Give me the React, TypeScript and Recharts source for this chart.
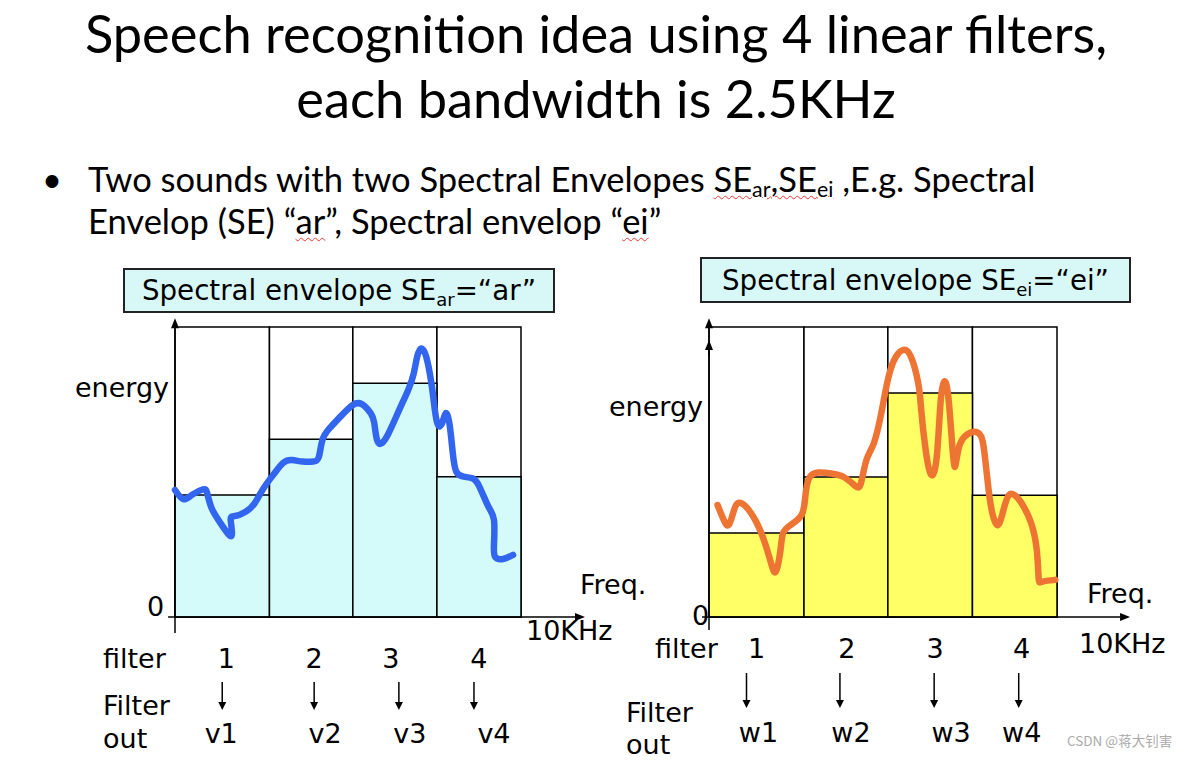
import React from 'react';
import { ComposedChart, Line, XAxis, YAxis, ReferenceArea, ReferenceLine } from 'recharts';

// filter band edges (kHz), 4 filters over 0..10KHz
const filterEdges = [0, 2.73, 5.14, 7.57, 10];
const filterNames = ['1', '2', '3', '4'];
const arOutNames = ['v1', 'v2', 'v3', 'v4'];
const eiOutNames = ['w1', 'w2', 'w3', 'w4'];

// filter output energy (top of frame = 1)
const arBandEnergy = [0.421, 0.613, 0.806, 0.484];
const eiBandEnergy = [0.29, 0.483, 0.772, 0.42];

// spectral envelope "ar"
const arFreq = [0.0, 0.24, 0.49, 0.81, 0.93, 1.06, 1.32, 1.63, 1.61, 1.73, 2.04, 2.3, 2.56, 2.87, 3.13, 3.38, 3.69, 4.0, 4.16, 4.26, 4.47, 4.83, 5.14, 5.4, 5.66, 5.76, 5.84, 5.97, 6.17, 6.48, 6.74, 6.9, 7.0, 7.12, 7.26, 7.41, 7.51, 7.6, 7.72, 7.82, 7.93, 8.03, 8.13, 8.34, 8.6, 8.8, 9.06, 9.22, 9.22, 9.25, 9.48, 9.77];
const arEnergy = [0.438, 0.406, 0.421, 0.44, 0.427, 0.375, 0.323, 0.279, 0.334, 0.348, 0.363, 0.392, 0.444, 0.495, 0.532, 0.541, 0.536, 0.536, 0.553, 0.61, 0.651, 0.697, 0.731, 0.734, 0.702, 0.668, 0.61, 0.599, 0.633, 0.714, 0.783, 0.84, 0.898, 0.926, 0.898, 0.806, 0.714, 0.662, 0.668, 0.702, 0.668, 0.564, 0.501, 0.484, 0.478, 0.449, 0.38, 0.334, 0.254, 0.208, 0.2, 0.214];

// spectral envelope "ei"
const eiFreq = [0.245, 0.426, 0.564, 0.692, 0.82, 1.064, 1.33, 1.543, 1.756, 1.916, 2.054, 2.129, 2.341, 2.661, 2.767, 2.874, 3.14, 3.512, 3.885, 4.204, 4.364, 4.523, 4.736, 4.949, 5.162, 5.375, 5.587, 5.8, 6.013, 6.098, 6.226, 6.386, 6.545, 6.652, 6.758, 6.865, 6.971, 7.056, 7.163, 7.344, 7.61, 7.823, 7.929, 8.035, 8.142, 8.301, 8.461, 8.621, 8.834, 9.046, 9.259, 9.419, 9.472, 9.579, 9.951];
const eiEnergy = [0.386, 0.334, 0.317, 0.358, 0.392, 0.38, 0.334, 0.277, 0.197, 0.156, 0.231, 0.289, 0.317, 0.352, 0.415, 0.478, 0.498, 0.495, 0.482, 0.452, 0.461, 0.541, 0.599, 0.702, 0.829, 0.898, 0.921, 0.898, 0.806, 0.714, 0.576, 0.49, 0.553, 0.737, 0.811, 0.771, 0.622, 0.518, 0.576, 0.622, 0.639, 0.622, 0.553, 0.438, 0.358, 0.317, 0.369, 0.421, 0.415, 0.38, 0.323, 0.231, 0.133, 0.122, 0.128];

const centers = filterEdges.slice(0, -1).map((e, i) => (e + filterEdges[i + 1]) / 2);

const TITLE_FONT = "Lato, 'Open Sans', sans-serif";
const LABEL_FONT = "'DejaVu Sans', Verdana, sans-serif";

type Panel = {
  left: number;
  top: number;
  width: number;
  height: number;
  margin: { top: number; right: number; bottom: number; left: number };
  fill: string;
  stroke: string;
  xEnd: number;
  yBottom: number;
  numDy: number;
  arrowTop: number;
  arrowBottom: number;
  outDy: number;
  numDx: number[];
  arrowDx: number[];
  outDx: number[];
  extraArrow?: number;
};

const arPanel: Panel = {
  left: 60, top: 300, width: 540, height: 461,
  margin: { top: 27, right: 79, bottom: 0, left: 115 },
  fill: '#D5FAFA', stroke: '#3366EE',
  xEnd: 11.85, yBottom: -0.055,
  numDy: 51, arrowTop: 65, arrowBottom: 93, outDy: 126,
  numDx: [4, 3, -4, 0], arrowDx: [0, 3, 4, -5], outDx: [-1, 14, 15, 15],
};

const eiPanel: Panel = {
  left: 600, top: 300, width: 584, height: 461,
  margin: { top: 27, right: 127, bottom: 0, left: 109 },
  fill: '#FFFF66', stroke: '#EE7433',
  xEnd: 12.1, yBottom: -0.045,
  numDy: 41, arrowTop: 56, arrowBottom: 91, outDy: 125,
  numDx: [0, 1, 5, 7], arrowDx: [-10, -6, 4, 4], outDx: [2, 5, 21, 7],
  extraArrow: 0.955,
};

// axis line with an arrow head at its end point
const arrowShape = (props: any) => {
  const { x1, y1, x2, y2 } = props;
  const dx = x2 - x1;
  const dy = y2 - y1;
  const len = Math.hypot(dx, dy) || 1;
  const ux = dx / len;
  const uy = dy / len;
  const hl = 10;
  const hw = 4;
  const bx = x2 - ux * hl;
  const by = y2 - uy * hl;
  const pts = `${x2},${y2} ${bx - uy * hw},${by + ux * hw} ${bx + uy * hw},${by - ux * hw}`;
  return (
    <g>
      <line x1={x1} y1={y1} x2={bx} y2={by} stroke="#000" strokeWidth={1.5} />
      <polygon points={pts} fill="#000" />
    </g>
  );
};

function makeTick(p: Panel, outs: string[]) {
  return (props: any) => {
    const { x, y, payload } = props;
    const i = centers.indexOf(payload.value);
    if (i < 0) return <g />;
    const ax = x + p.arrowDx[i];
    const tip = y + p.arrowBottom;
    return (
      <g>
        <text x={x + p.numDx[i]} y={y + p.numDy} textAnchor="middle" fontSize={27} fontFamily={LABEL_FONT} fill="#000">
          {filterNames[i]}
        </text>
        <line x1={ax} y1={y + p.arrowTop} x2={ax} y2={tip - 7} stroke="#000" strokeWidth={1.5} />
        <polygon points={`${ax - 4},${tip - 8} ${ax + 4},${tip - 8} ${ax},${tip}`} fill="#000" />
        <text x={x + p.outDx[i]} y={y + p.outDy} textAnchor="middle" fontSize={27} fontFamily={LABEL_FONT} fill="#000">
          {outs[i]}
        </text>
      </g>
    );
  };
}

function FilterPanel({ p, freq, energy, bands, outs }: { p: Panel; freq: number[]; energy: number[]; bands: number[]; outs: string[] }) {
  const data = freq.map((f, i) => ({ f, e: energy[i] }));
  return (
    <div style={{ position: 'absolute', left: p.left, top: p.top }}>
      <ComposedChart width={p.width} height={p.height} data={data} margin={p.margin}>
        <XAxis
          type="number"
          dataKey="f"
          domain={[0, 10]}
          ticks={centers}
          interval={0}
          axisLine={false}
          tickLine={false}
          tickSize={0}
          tickMargin={0}
          height={144}
          tick={makeTick(p, outs)}
        />
        <YAxis type="number" domain={[0, 1]} hide />
        {centers.map((_, i) => (
          <ReferenceArea
            key={`frame${i}`}
            x1={filterEdges[i]}
            x2={filterEdges[i + 1]}
            y1={0}
            y2={1}
            fill="#fff"
            fillOpacity={1}
            stroke="#000"
            strokeWidth={1.5}
          />
        ))}
        {bands.map((v, i) => (
          <ReferenceArea
            key={`band${i}`}
            x1={filterEdges[i]}
            x2={filterEdges[i + 1]}
            y1={0}
            y2={v}
            fill={p.fill}
            fillOpacity={1}
            stroke="#000"
            strokeWidth={1.5}
          />
        ))}
        <ReferenceLine segment={[{ x: 0, y: p.yBottom }, { x: 0, y: 1.03 }]} ifOverflow="visible" shape={arrowShape} />
        {p.extraArrow ? (
          <ReferenceLine segment={[{ x: 0, y: 0.9 }, { x: 0, y: p.extraArrow }]} ifOverflow="visible" shape={arrowShape} />
        ) : null}
        <ReferenceLine segment={[{ x: -0.2, y: 0 }, { x: p.xEnd, y: 0 }]} ifOverflow="visible" shape={arrowShape} />
        <Line
          type="natural"
          dataKey="e"
          stroke={p.stroke}
          strokeWidth={6.5}
          strokeLinecap="round"
          strokeLinejoin="round"
          dot={false}
          activeDot={false}
          isAnimationActive={false}
        />
      </ComposedChart>
    </div>
  );
}

const labels: { t: string; x: number; y: number }[] = [
  { t: 'energy', x: 75, y: 397 },
  { t: '0', x: 147, y: 616 },
  { t: 'Freq.', x: 580, y: 594 },
  { t: '10KHz', x: 526, y: 640 },
  { t: 'filter', x: 103, y: 668 },
  { t: 'Filter', x: 103, y: 715 },
  { t: 'out', x: 103, y: 748 },
  { t: 'energy', x: 609, y: 416 },
  { t: '0', x: 692, y: 625 },
  { t: 'Freq.', x: 1087, y: 603 },
  { t: '10KHz', x: 1079, y: 653 },
  { t: 'filter', x: 655, y: 658 },
  { t: 'Filter', x: 626, y: 722 },
  { t: 'out', x: 626, y: 754 },
];

const squiggle: React.CSSProperties = {
  textDecorationLine: 'underline',
  textDecorationStyle: 'wavy',
  textDecorationColor: '#E33',
  textDecorationThickness: 1,
  textUnderlineOffset: 3,
};

const subStyle: React.CSSProperties = { fontSize: '0.62em', verticalAlign: '-0.25em', lineHeight: 0 };

function BoxTitle({ left, top, width, height, sub, word }: { left: number; top: number; width: number; height: number; sub: string; word: string }) {
  return (
    <div
      style={{
        position: 'absolute', left, top, width, height, boxSizing: 'border-box',
        border: '2px solid #222', background: '#D8F8F8',
        display: 'flex', alignItems: 'center', justifyContent: 'center',
        fontFamily: LABEL_FONT, fontSize: 27.7, color: '#000', whiteSpace: 'nowrap',
      }}
    >
      <span>
        Spectral envelope SE<span style={{ fontSize: 18, position: 'relative', top: 6 }}>{sub}</span>=“{word}”
      </span>
    </div>
  );
}

export default function App() {
  return (
    <div style={{ position: 'absolute', left: 0, top: 0, width: 1184, height: 761, background: '#fff', overflow: 'hidden' }}>
      <div
        style={{
          position: 'absolute', left: 0, top: 0, width: 1192, textAlign: 'center',
          fontFamily: TITLE_FONT, fontSize: 52.4, lineHeight: '65px', color: '#000',
        }}
      >
        Speech recognition idea using 4 linear filters,
        <br />
        each bandwidth is 2.5KHz
      </div>

      <div style={{ position: 'absolute', left: 42, top: 158, fontFamily: TITLE_FONT, fontSize: 34.5, lineHeight: '42px' }}>•</div>
      <div
        style={{
          position: 'absolute', left: 88, top: 158, width: 1050,
          fontFamily: TITLE_FONT, fontSize: 34.5, lineHeight: '42px', color: '#000', whiteSpace: 'nowrap',
        }}
      >
        Two sounds with two Spectral Envelopes{' '}
        <span style={squiggle}>
          SE<span style={subStyle}>ar</span>,SE<span style={subStyle}>ei</span>
        </span>{' '}
        ,E.g. Spectral
        <br />
        Envelop (SE) “<span style={squiggle}>ar</span>”, Spectral envelop “<span style={squiggle}>ei</span>”
      </div>

      <BoxTitle left={123} top={268} width={432} height={45} sub="ar" word="ar" />
      <BoxTitle left={700} top={257} width={431} height={46} sub="ei" word="ei" />

      <FilterPanel p={arPanel} freq={arFreq} energy={arEnergy} bands={arBandEnergy} outs={arOutNames} />
      <FilterPanel p={eiPanel} freq={eiFreq} energy={eiEnergy} bands={eiBandEnergy} outs={eiOutNames} />

      <svg width={1184} height={761} style={{ position: 'absolute', left: 0, top: 0, pointerEvents: 'none' }}>
        {labels.map((l, i) => (
          <text key={i} x={l.x} y={l.y} fontSize={27} fontFamily={LABEL_FONT} fill="#000">
            {l.t}
          </text>
        ))}
        <text x={1067} y={746} fontSize={13.5} fontFamily="'Noto Sans CJK SC', sans-serif" fill="#aaa">
          CSDN @蒋大钊害
        </text>
      </svg>
    </div>
  );
}
